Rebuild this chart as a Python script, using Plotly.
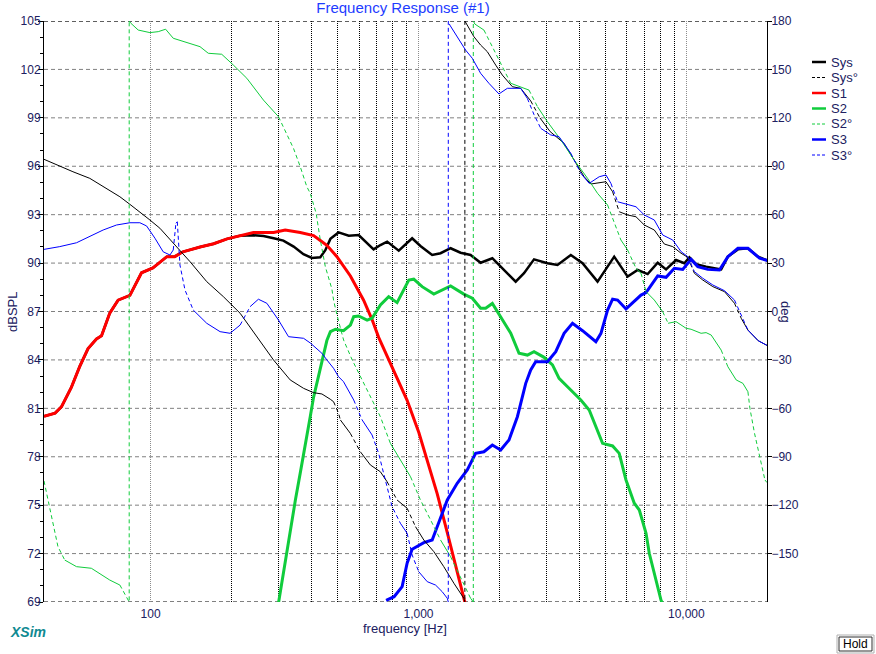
import numpy as np
import plotly.graph_objects as go

# %% data
# magnitude, dB SPL
sys_f = [40, 44, 46.5, 50.6, 54.4, 58.4, 62.8, 65.6, 70.4, 75.6, 83.7, 92.5, 102, 115, 123,
         132, 153, 172, 193, 216, 242, 264, 288, 313, 342, 372, 400,
         430, 449, 469, 503, 549, 598, 643, 680, 721, 764, 844, 947, 1017, 1125, 1209, 1318,
         1436, 1565, 1706, 1887, 2027, 2306, 2477, 2700, 3030, 3303, 3704, 4097, 4661, 5378,
         6036, 6579, 7170, 7817, 8399, 9153, 9829, 10261, 10871, 11849, 13487, 14288, 15573,
         16975, 18506, 20170]
sys_db = [80.5, 80.7, 81.1, 82.3, 83.6, 84.7, 85.3, 85.5, 86.9, 87.7, 88.0, 89.4, 89.7, 90.4,
          90.4, 90.7, 91.0, 91.2, 91.5, 91.7, 91.72, 91.68, 91.54, 91.39,
          91.02, 90.55, 90.32, 90.36, 90.8, 91.5, 91.9, 91.7, 91.74, 91.23, 90.85, 91.12, 91.33,
          90.77, 91.54, 91.06, 90.5, 90.61, 90.92, 90.64, 90.5, 90.02, 90.3, 89.78, 88.85, 89.37,
          90.23, 89.99, 89.88, 90.5, 89.99, 88.85, 90.4, 89.16, 89.57, 89.32, 90.02, 89.61, 90.19,
          89.99, 90.36, 89.93, 89.78, 89.61, 90.4, 90.85, 90.92, 90.4, 90.15]

s1_f = [40, 44, 46.5, 50.6, 54.4, 58.4, 62.8, 65.6, 70.4, 75.6, 83.7, 92.5, 102, 115, 123,
        132, 153, 172, 193, 216, 242, 288, 318, 362, 406, 430, 455, 496, 557, 624, 671, 710,
        786, 907, 1003, 1093, 1175, 1281, 1375, 1477, 1500]
s1_db = [80.5, 80.7, 81.1, 82.3, 83.6, 84.7, 85.3, 85.5, 86.9, 87.7, 88.0, 89.4, 89.7, 90.4,
         90.4, 90.7, 91.0, 91.2, 91.5, 91.7, 91.9, 91.9, 92.05, 91.9, 91.7, 91.4, 91.1, 90.4,
         89.2, 87.7, 86.5, 85.4, 83.8, 81.5, 79.5, 77.4, 75.7, 73.3, 71.2, 69.2, 68.8]

s2_f = [300, 321, 347, 362, 372, 394.5, 406, 430, 442, 455, 469, 490, 525, 557, 573, 598, 643,
        671, 721, 774, 832, 920, 960, 1032, 1141, 1318, 1477, 1588, 1706, 1781, 1887, 2027,
        2210, 2373, 2550, 2700, 2944, 3164, 3348, 3600, 4037, 4338, 4594, 4866, 5305, 5616,
        5952, 6392, 6674, 7071, 7270, 7592, 8041, 8200]
s2_db = [68.9, 72.0, 75.3, 77.0, 78.2, 80.5, 81.7, 83.4, 84.4, 85.2, 85.75, 85.9, 85.81, 86.16,
         86.68, 86.72, 86.47, 86.58, 87.4, 87.92, 87.55, 88.95, 89.0, 88.54, 88.08, 88.58, 88.08,
         87.82, 87.2, 87.2, 87.5, 86.7, 85.65, 84.41, 84.3, 84.51, 84.16, 83.69, 82.86, 82.34,
         81.52, 80.9, 79.86, 78.83, 78.67, 78.21, 76.56, 75.12, 74.7, 73.26, 72.02, 70.78, 69.12,
         68.8]

s3_f = [757, 811, 869, 907, 947, 1047, 1125, 1175, 1281, 1395, 1521, 1634, 1755, 1887, 2027,
        2177, 2340, 2514, 2624, 2739, 3030, 3254, 3496, 3758, 4097, 4594, 4799, 5080, 5305,
        5538, 5952, 6772, 7071, 7817, 8399, 9019, 9694, 10413, 11032, 12025, 13290, 14288,
        15573, 16975, 18765, 20170]
s3_db = [69.1, 69.33, 69.95, 71.4, 72.27, 72.68, 72.84, 73.67, 75.32, 76.36, 77.18, 78.21,
         78.31, 78.73, 78.42, 79.04, 80.48, 82.55, 83.38, 83.89, 83.89, 84.51, 85.65, 86.27,
         85.81, 85.13, 85.65, 87.09, 87.76, 87.71, 87.16, 88.02, 88.17, 89.2, 89.12, 89.68,
         89.61, 90.23, 89.78, 89.61, 89.57, 90.4, 90.92, 90.92, 90.3, 90.15]

# phase, degrees (wrap points repeated at the same frequency)
sysp_f = [40, 44.5, 51.3, 59.3, 68.4, 76.8, 83.7, 91.2, 99.4, 108.3, 121.5, 140.3, 162, 186.9,
          215.9, 249.2, 287.5, 332, 372.4, 405.9, 436, 469, 482, 503, 511, 556.6, 606.7, 661.4,
          720.8, 763.7, 832, 907, 974.6, 1047, 1141, 1243, 1356, 1477, 1490, 1490, 1508, 1610,
          1706, 1807, 1942, 2056, 2241, 2407, 2624, 2840, 3100, 3496, 3811, 4154, 4400, 4661,
          5010, 5305, 5616, 6036, 6486, 6966, 7592, 8275, 8894, 9555, 10121, 10715, 11515,
          12561, 13877, 15124, 16023, 16975, 18545, 20000]
sysp_deg = [94.3, 90.8, 86.6, 82.5, 76.3, 71.1, 66.4, 61.8, 56.7, 51.6, 42.3, 30.9, 18.5, 9.2,
            -1.1, -15.6, -30, -42.4, -47.6, -50.3, -51.1, -54.4, -55.9, -63, -67.2, -75.5, -86.9,
            -95.1, -99.3, -105.5, -116.8, -121.9, -133.3, -141.6, -148.8, -158.1, -168.4, -177.7,
            -180, 180, 178.6, 170.3, 165.1, 161, 152.7, 146.5, 139.3, 138.3, 130.5, 120, 111.5,
            104.2, 93.9, 83.5, 79, 79.8, 80.4, 74.2, 61.8, 59.8, 58.7, 53.6, 50.5, 41.8, 40.2,
            36.1, 33.6, 23.7, 19.5, 15.4, 12.3, 5.1, -4.2, -11.5, -18.1, -21]

s2p_f = [40, 41.4, 42, 43.8, 45.1, 47.8, 52.9, 60.1, 64.6, 70.4, 76.8, 83.2, 83.2, 84.4, 89.9,
         99.4, 106.8, 113.8, 121.5, 136.3, 152.9, 164.2, 184.3, 203.7, 228.7, 263.8, 300.2,
         341.7, 362, 383, 394.5, 415, 430, 449, 475, 482, 496, 525.4, 565.7, 606.7, 661.4,
         720.8, 785.5, 856, 934, 1017, 1110, 1209, 1318, 1436, 1565, 1602, 1602, 1624, 1755,
         1887, 2027, 2210, 2407, 2585, 2781, 3030, 3400, 3811, 4277, 4661, 5080, 5378, 5697,
         6036, 6486, 6772, 7071, 7592, 8159, 8549, 9153, 9975, 10413, 11350, 11849, 12379,
         13487, 14288, 15344, 16254, 16975, 17268, 17967, 18765, 19310, 19649, 20000]
s2p_deg = [-105, -116.8, -123, -137.4, -145.7, -154, -158.1, -159.1, -162.2, -166.4, -169.5,
           -180, 180, 178.6, 174.4, 172.8, 173.4, 174.9, 169.3, 166.6, 164.1, 160, 159.4, 152.7,
           144.5, 131, 120.7, 101, 89.7, 77.3, 73.2, 60.8, 44.3, 27.8, 14, 7, -2, -17.7, -30,
           -40.4, -52.8, -65.2, -81.7, -92, -102.4, -116.8, -129.2, -141.6, -151.9, -164.3,
           -177.7, -180, 180, 178.1, 174.4, 164.1, 153.8, 141.4, 139.3, 137.2, 126.9, 117.6,
           106.3, 93.9, 82.5, 73.2, 66, 54.7, 44.3, 38.1, 26.8, 23.7, 12.3, 7.1, -0.1, -7.3, -6.3,
           -10.4, -11, -13.5, -13.1, -14.6, -23.9, -34.2, -42.4, -44.5, -49.7, -60, -75.5, -90,
           -100.3, -104.4, -106]

s3p_f = [40, 45.8, 52.9, 59.3, 66.5, 74.6, 83.7, 91.2, 96.6, 103.8, 111.4, 118.1, 121.5, 124.3,
         125.8, 128.7, 134.4, 144.3, 162, 181.7, 198, 215.9, 235.2, 252.6, 271.6, 300.2, 327.2,
         372.4, 394.5, 436, 455, 482, 503, 525, 573, 616, 671, 710, 752, 797, 856, 907, 947,
         1002, 1078, 1158, 1226, 1281, 1292, 1292, 1309, 1395, 1499, 1588, 1706, 1832, 1997,
         2147, 2407, 2550, 2700, 2860, 3117, 3348, 3704, 4037, 4338, 4727, 5010, 5228, 5538,
         6036, 6486, 6966, 7592, 8159, 8894, 9555, 10121, 10715, 11515, 12561, 13877, 15124,
         16254, 16975, 18545, 20000]
s3p_deg = [38.5, 40.2, 42.6, 46.3, 50.5, 53.6, 55, 55, 53, 45.4, 37, 35, 38.1, 54.7, 55.6, 28.8,
           13.3, 0.9, -7.3, -12.5, -13.5, -8.4, 3, 7.6, 5.1, -5.3, -15.6, -16.6, -19.5, -25.9,
           -30, -35.2, -40.4, -43.5, -54.8, -67.2, -76.5, -87.9, -104.4, -120.9, -131.2, -137.4,
           -150.9, -161.2, -167.4, -169.5, -173.6, -177.7, -180, 180, 177.5, 170.3, 162, 156.9,
           147.6, 141.4, 134.8, 138.3, 138.3, 132, 122, 113.5, 109.4, 108.3, 98, 85.6, 79.4,
           83.5, 84.6, 79.4, 68, 66.4, 64.9, 59.8, 56.7, 47.4, 44.3, 37.1, 34, 24.7, 20.6, 16.4,
           12.9, 7.1, -4.2, -11.5, -18.1, -21]

db_ticks = list(range(69, 106, 3))
deg_ticks = list(range(-150, 181, 30))
freq_ticks = [100, 1000, 10000]
freq_labels = ["100", "1,000", "10,000"]
freq_minor = [200, 300, 400, 500, 600, 700, 800, 900,
              2000, 3000, 4000, 5000, 6000, 7000, 8000, 9000]

BLACK = "#000000"
RED = "#ff0000"
GREEN = "#10cc3c"
BLUE = "#0000ff"
TXT = "#202060"
FONT = "Liberation Sans, Arial, sans-serif"
STEEP = 300  # deg per decade: XSim's dashed pen only shows on steep stretches
DASH = "4px,3px"


def split_phase(freqs, degs):
    """split a phase curve into flat (solid) and steep (dashed) runs"""
    sx, sy, dx, dy = [], [], [], []
    for i in range(len(freqs) - 1):
        f1, f2, d1, d2 = freqs[i], freqs[i + 1], degs[i], degs[i + 1]
        dl = abs(np.log10(f2) - np.log10(f1))
        steep = dl == 0 or abs(d2 - d1) / dl > STEEP
        xs, ys = (dx, dy) if steep else (sx, sy)
        if xs and xs[-1] == f1 and ys[-1] == d1:
            xs.append(f2)
            ys.append(d2)
        else:
            if xs:
                xs.append(None)
                ys.append(None)
            xs += [f1, f2]
            ys += [d1, d2]
    return sx, sy, dx, dy


fig = go.Figure()

fig.add_trace(go.Scatter(x=sys_f, y=sys_db, mode="lines", name="Sys",
                         line=dict(color=BLACK, width=2.5)))


def add_phase(freqs, degs, color, name):
    sx, sy, dx, dy = split_phase(freqs, degs)
    fig.add_trace(go.Scatter(x=sx, y=sy, yaxis="y2", mode="lines", name=name,
                             line=dict(color=color, width=1)))
    fig.add_trace(go.Scatter(x=dx, y=dy, yaxis="y2", mode="lines", name=name,
                             line=dict(color=color, width=1, dash=DASH)))


add_phase(sysp_f, sysp_deg, BLACK, "Sys°")
fig.add_trace(go.Scatter(x=s1_f, y=s1_db, mode="lines", name="S1",
                         line=dict(color=RED, width=3)))
fig.add_trace(go.Scatter(x=s2_f, y=s2_db, mode="lines", name="S2",
                         line=dict(color=GREEN, width=3)))
add_phase(s2p_f, s2p_deg, GREEN, "S2°")
fig.add_trace(go.Scatter(x=s3_f, y=s3_db, mode="lines", name="S3",
                         line=dict(color=BLUE, width=3)))
add_phase(s3p_f, s3p_deg, BLUE, "S3°")


# %% layout
def px(x):
    return (x - 44) / 723


def py(y):
    return (602 - y) / 581


def note(text, x, y, size=13, color=TXT, angle=0, anchor="center"):
    return dict(text=text, x=px(x), y=py(y), xref="paper", yref="paper",
                xanchor=anchor, yanchor="middle", textangle=angle, showarrow=False,
                font=dict(size=size, color=color, family=FONT))


shapes = []
for v in db_ticks:
    edge = v == db_ticks[0]
    shapes.append(dict(type="line", xref="paper", x0=0, x1=1, yref="y", y0=v, y1=v,
                       layer="below",
                       line=dict(color=BLACK if edge else "#808080", width=1, dash=DASH)))
shapes.append(dict(type="line", xref="paper", x0=0, x1=1, yref="y", y0=105, y1=105,
                   layer="below", line=dict(color=BLACK, width=1, dash=DASH)))

annotations = [
    note("dBSPL", 12, 312, angle=-90),
    note("deg", 786, 312, angle=90),
    note("frequency [Hz]", 405, 628),
    note("<b><i>XSim</i></b>", 8, 632, size=14, color="#108a92", anchor="left"),
    note("Hold", 855.5, 644, size=12, color=BLACK),
]
shapes.append(dict(type="rect", xref="paper", yref="paper", x0=px(837), x1=px(874),
                   y0=py(635), y1=py(653), line=dict(color="#b0b0b0", width=1),
                   fillcolor="#ffffff"))
shapes.append(dict(type="rect", xref="paper", yref="paper", x0=px(839), x1=px(872),
                   y0=py(637), y1=py(651), line=dict(color="#303030", width=1)))

# hand-drawn legend (XSim packs its entries tighter than plotly's legend can)
legend_rows = [("Sys", BLACK, 2.5, "solid"), ("Sys°", BLACK, 1, "3px,2px"),
               ("S1", RED, 2.5, "solid"), ("S2", GREEN, 2.5, "solid"),
               ("S2°", GREEN, 1, "3px,2px"), ("S3", BLUE, 2.5, "solid"),
               ("S3°", BLUE, 1, "3px,2px")]
for i, (label, color, width, dash) in enumerate(legend_rows):
    row_y = 62 + i * 15.5
    shapes.append(dict(type="line", xref="paper", yref="paper", x0=px(812), x1=px(826),
                       y0=py(row_y), y1=py(row_y),
                       line=dict(color=color, width=width, dash=dash)))
    annotations.append(note(label, 829, row_y, anchor="left"))

fig.update_layout(
    width=876, height=654,
    margin=dict(l=44, r=109, t=21, b=52),
    paper_bgcolor="white", plot_bgcolor="white",
    showlegend=False,
    font=dict(family=FONT, size=12, color=TXT),
    title=dict(text="Frequency Response (#1)", x=px(403), xref="paper", xanchor="center",
               y=1 - 8 / 654, yref="container", yanchor="middle",
               font=dict(size=15, color="#1e3cff", family=FONT)),
    xaxis=dict(type="log", range=[np.log10(40), np.log10(20000)],
               tickmode="array", tickvals=freq_ticks, ticktext=freq_labels,
               ticks="outside", ticklen=3, tickcolor="rgba(0,0,0,0)", ticklabelstandoff=-2,
               showgrid=True, gridcolor="#8c8c8c", griddash="1px,1px", gridwidth=1,
               minor=dict(tickmode="array", tickvals=freq_minor, showgrid=True,
                          gridcolor=BLACK, griddash="1px,1px", gridwidth=1, ticks=""),
               showline=False, zeroline=False,
               tickfont=dict(size=12, color=TXT)),
    yaxis=dict(range=[69, 105], tick0=69, dtick=3, showgrid=False, zeroline=False,
               ticks="outside", ticklen=5, tickcolor=BLACK, ticklabelstandoff=-5,
               minor=dict(dtick=1, ticks="outside", ticklen=3, tickcolor=BLACK,
                          showgrid=False),
               showline=True, linecolor=BLACK, linewidth=1,
               tickfont=dict(size=12, color=TXT)),
    yaxis2=dict(range=[-180, 180], overlaying="y", side="right",
                tickmode="array", tickvals=deg_ticks, showgrid=False, zeroline=False,
                ticks="outside", ticklen=4, tickcolor=BLACK, ticklabelstandoff=-3,
                showline=True, linecolor=BLACK, linewidth=1,
                tickfont=dict(size=12, color=TXT)),
    shapes=shapes,
    annotations=annotations,
)

fig.write_html("out.html", config={"displayModeBar": False},
               post_script="document.body.style.margin = '0';")
